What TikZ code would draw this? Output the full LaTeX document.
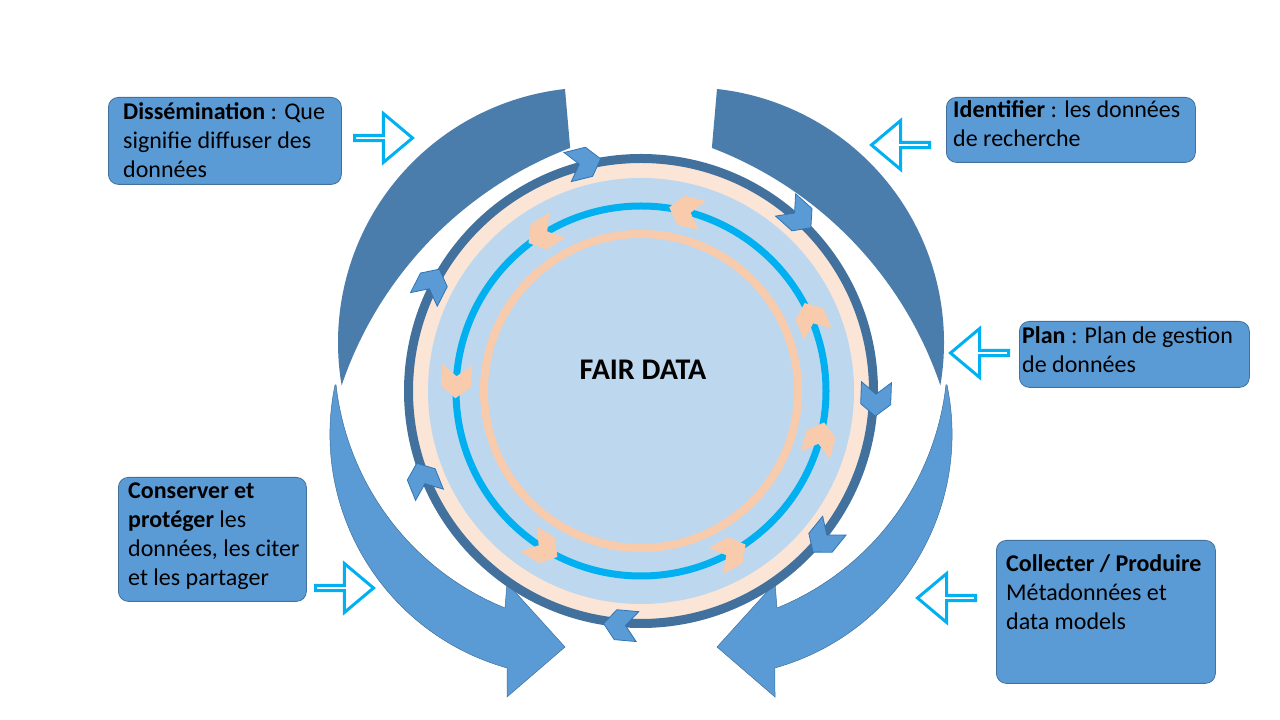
\documentclass[tikz,border=0pt]{standalone}
\usepackage{fontspec}
\setmainfont{Carlito}
\usetikzlibrary{shapes.arrows}
\definecolor{bigdark}{HTML}{4A7DAB}
\definecolor{biglight}{HTML}{5B9BD5}
\definecolor{edgeblue}{HTML}{41719C}
\definecolor{ringd}{HTML}{41719C}
\definecolor{peachl}{HTML}{FBE5D6}
\definecolor{lblue}{HTML}{BDD7EE}
\definecolor{cyanb}{HTML}{00B0F0}
\definecolor{peach}{HTML}{F8CBAD}
\definecolor{chevb}{HTML}{2E75B6}
\begin{document}
\begin{tikzpicture}[x=1pt,y=1pt,
  box/.style={draw=edgeblue, fill=biglight, rounded corners=10pt, line width=0.8pt, anchor=north west, inner sep=0pt},
  txt/.style={anchor=north west, align=left, inner sep=0pt, font=\fontsize{24}{29}\selectfont},
  hollow/.style={single arrow, draw=cyanb, fill=white, line width=3pt, minimum height=58pt, minimum width=49pt, single arrow head extend=13pt, single arrow tip angle=80, inner sep=0pt},
  upperpart/.style={fill=bigdark},
  lowerpart/.style={fill=biglight, draw=edgeblue, line width=0.5pt}]
\useasboundingbox (0,0) rectangle (1280,720);
% big curved arrows
\foreach \m in {0,1}{
\begin{scope}[xshift=\m*1282pt, xscale=1-2*\m]
\fill[upperpart] (565,631) arc[start angle=96.3,end angle=189.7,radius=255]
  arc[start angle=161.3,end angle=110.9,radius=387] -- cycle;
\path[lowerpart] (335,335) arc[start angle=168.3,end angle=254.3,radius=242.8]
  -- (507,23) -- (565,73) -- (507,137) -- (505,112)
  arc[start angle=247.9,end angle=186.4,radius=273.6] -- cycle;
\end{scope}}
% central disc
\begin{scope}[shift={(641,329)}]
\draw[line width=9pt, draw=ringd, fill=peachl] (0,0) circle[radius=232.5];
\fill[lblue] (0,0) circle[radius=213];
\draw[cyanb, line width=7pt] (0,0) circle[radius=185];
\draw[peach, line width=8pt] (0,0) circle[radius=157];
\foreach \a in {104,48,-2,-39,-95,202,153}{
  \begin{scope}[shift={(\a:235)}, rotate=\a-90]
  \filldraw[fill=biglight, draw=chevb, line width=0.8pt] (-17,-15) -- (5,-15) -- (17,0) -- (5,15) -- (-17,15) -- (-5,0) -- cycle;
  \end{scope}}
\foreach \a in {76,122,177,238,299,345,23}{
  \begin{scope}[shift={(\a:185)}, rotate=\a+90]
  \fill[peach] (-17,-15) -- (5,-15) -- (17,0) -- (5,15) -- (-17,15) -- (-5,0) -- cycle;
  \end{scope}}
\end{scope}
\node[font=\bfseries\fontsize{30}{36}\selectfont] (fair) at (643,350) {FAIR DATA};
% hollow arrows
\node[hollow, shape border rotate=-29] (h1) at (382,582) {};
\node[hollow, shape border rotate=194] (h2) at (902,575) {};
\node[hollow, shape border rotate=180] (h3) at (981,367) {};
\node[hollow, shape border rotate=180] (h4) at (948,122) {};
\node[hollow, shape border rotate=0] (h5) at (343,132) {};
% boxes
\node[box, minimum width=233pt, minimum height=87pt] (b1) at (108,623) {};
\node[txt] (t1) at ([shift={(15,-5)}]b1.north west) {\textbf{Dissémination} : Que\\signifie diffuser des\\données};
\node[box, minimum width=249pt, minimum height=65pt] (b2) at (946,623) {};
\node[txt] (t2) at ([shift={(7,-3)}]b2.north west) {\textbf{Identifier} : les données\\de recherche};
\node[box, minimum width=230pt, minimum height=66pt] (b3) at (1019,399) {};
\node[txt] (t3) at ([shift={(3,-5)}]b3.north west) {\textbf{Plan} : Plan de gestion\\de données};
\node[box, minimum width=188pt, minimum height=124pt] (b4) at (118,243) {};
\node[txt] (t4) at ([shift={(10,-6)}]b4.north west) {\textbf{Conserver et}\\\textbf{protéger} les\\données, les citer\\et les partager};
\node[box, minimum width=219pt, minimum height=143pt] (b5) at (996,180) {};
\node[txt] (t5) at ([shift={(10,-14)}]b5.north west) {\textbf{Collecter / Produire}\\Métadonnées et\\data models};
\end{tikzpicture}
\end{document}
